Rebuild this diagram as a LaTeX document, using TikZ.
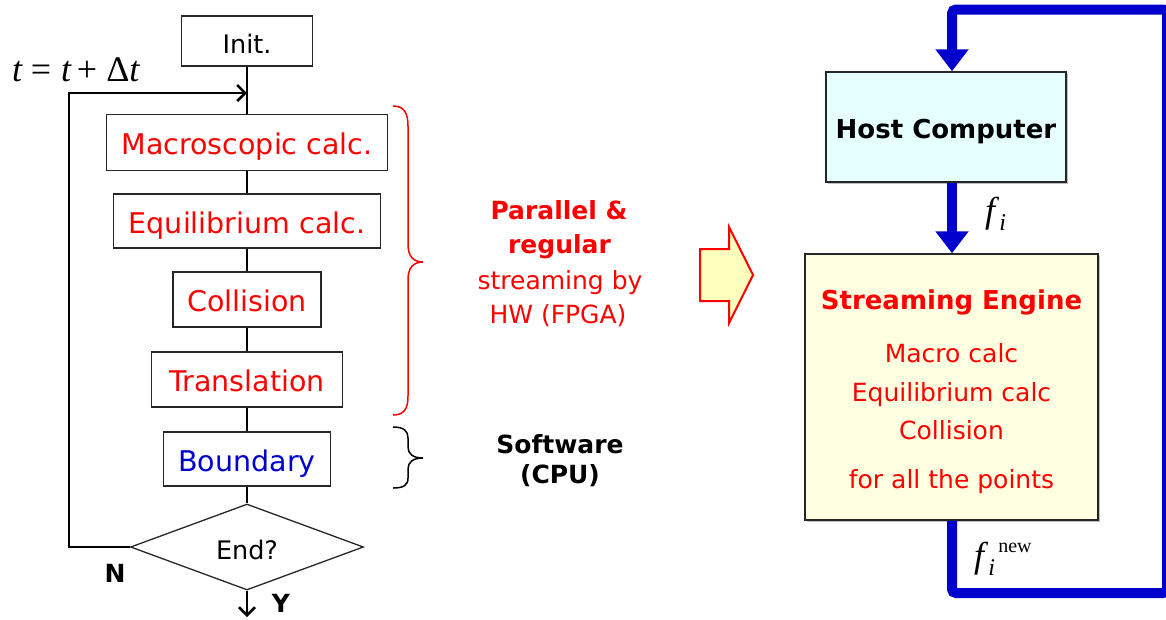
\documentclass[tikz,border=0pt]{standalone}
\usepackage{fontspec}
\setmainfont{DejaVu Sans}
\newfontfamily\tnr{Liberation Serif}
\usetikzlibrary{shapes.geometric,arrows.meta,shadows}
\definecolor{hwred}{RGB}{255,0,0}
\definecolor{swblue}{RGB}{0,0,204}
\definecolor{hostfill}{RGB}{230,255,255}
\definecolor{enginefill}{RGB}{255,255,225}
\definecolor{arrowfill}{RGB}{255,255,190}
\begin{document}
\begin{tikzpicture}[x=1pt,y=-1pt,
  stepbox/.style={draw=black!85, line width=1.3pt, inner sep=0pt,
    text height=24pt, text depth=0pt, text=hwred,
    font=\fontsize{28.5}{34}\selectfont},
  flow/.style={line width=2.5pt, black},
  barb/.style={-{Straight Barb[length=8pt,width=16pt]}},
  pipe/.style={draw=swblue, line width=10pt},
  pipetip/.style={-{Triangle[width=32pt,length=22pt]}},
  midreg/.style={anchor=base, inner sep=0pt, font=\fontsize{25}{30}\selectfont},
  midbold/.style={anchor=base, inner sep=0pt, font=\bfseries\fontsize{25}{30}\selectfont},
  enginetext/.style={anchor=base, inner sep=0pt, text=hwred, font=\fontsize{25}{30}\selectfont},
  boxshade/.style={drop shadow={shadow xshift=1.5pt, shadow yshift=-1.5pt, fill=black!25, opacity=1}},
]
\useasboundingbox (0,0) rectangle (1166,619);

% ---------------- flow chart ----------------
\node[stepbox, text=black, minimum width=131pt, minimum height=50pt,
      font=\fontsize{25.5}{30}\selectfont] (init) at (247,41) {Init.};
\node[stepbox, minimum width=281pt, minimum height=56pt] (macro) at (247,142.5) {Macroscopic calc.};
\node[stepbox, minimum width=267pt, minimum height=54pt] (equil) at (247,221) {Equilibrium calc.};
\node[stepbox, minimum width=148pt, minimum height=55pt] (coll) at (247,299.5) {Collision};
\node[stepbox, minimum width=191pt, minimum height=55pt] (trans) at (247,379.5) {Translation};
\node[stepbox, text=swblue, minimum width=167pt, minimum height=54pt] (bound) at (247,459) {Boundary};
\node[diamond, draw=black!85, line width=1.3pt, minimum width=233pt, minimum height=84pt,
      inner sep=0pt, text height=24pt, text depth=0pt,
      font=\fontsize{25.5}{30}\selectfont] (end) at (247,547) {End?};

\draw[flow] (init) -- (macro);
\draw[flow] (macro) -- (equil);
\draw[flow] (equil) -- (coll);
\draw[flow] (coll) -- (trans);
\draw[flow] (trans) -- (bound);
\draw[flow] (bound) -- (end);

\coordinate (ret) at (69,93);
\coordinate (join) at (247,93);
\draw[flow, barb, line join=miter] (end.west) -| (ret) -- (join);
\coordinate (out) at (247,617);
\draw[flow, barb] (end.south) -- (out);

\node[anchor=base, inner sep=0pt, font=\bfseries\fontsize{25}{30}\selectfont] (nlab) at (115,582) {N};
\node[anchor=base, inner sep=0pt, font=\bfseries\fontsize{25}{30}\selectfont] (ylab) at (281,612) {Y};

\node[anchor=base west, inner sep=0pt, font=\tnr\fontsize{36}{40}\selectfont] (tinc) at (12,81)
  {\textit{t}\hspace{8pt}=\hspace{10pt}\textit{t}\hspace{5pt}+\hspace{9pt}Δ\textit{t}};

% ---------------- braces ----------------
\draw[hwred, line width=1.5pt] (393,106) .. controls (404,106) and (408,113) .. (408,126)
  -- (408,244) .. controls (408,256) and (413,262) .. (423,262)
  .. controls (413,262) and (408,268) .. (408,280)
  -- (408,396) .. controls (408,409) and (404,415) .. (393,415);
\draw[black, line width=1.5pt] (393,427) .. controls (404,427) and (408,431) .. (408,438)
  -- (408,447) .. controls (408,454) and (413,458) .. (423,458)
  .. controls (413,458) and (408,462) .. (408,469)
  -- (408,478) .. controls (408,485) and (404,488) .. (393,488);

\node[midbold, text=hwred] (par1) at (559,219) {Parallel \&};
\node[midbold, text=hwred] (par2) at (559.5,253) {regular};
\node[midreg, text=hwred] (par3) at (560,289) {streaming by};
\node[midreg, text=hwred] (par4) at (558,323) {HW (FPGA)};
\node[midbold] (sw1) at (560,453) {Software};
\node[midbold] (sw2) at (560,483) {(CPU)};

% ---------------- block arrow ----------------
\draw[hwred, line width=2pt, fill=arrowfill, line join=miter]
  (700,249) -- (729,249) -- (729,227) -- (753,275) -- (729,323) -- (729,301) -- (700,301) -- cycle;

% ---------------- hardware side ----------------
\node[draw=black!85, line width=1.5pt, fill=hostfill, boxshade, minimum width=240pt, minimum height=110pt,
      inner sep=0pt, text height=22pt, text depth=0pt,
      font=\bfseries\fontsize{26}{30}\selectfont] (host) at (946,127) {Host Computer};
\node[draw=black!85, line width=1.5pt, fill=enginefill, boxshade, minimum width=293pt, minimum height=266pt,
      inner sep=0pt] (stream) at (951.5,387) {};

\node[enginetext, font=\bfseries\fontsize{26}{30}\selectfont] (se1) at (951.5,309) {Streaming Engine};
\node[enginetext] (se2) at (951.5,362) {Macro calc};
\node[enginetext] (se3) at (951.5,401) {Equilibrium calc};
\node[enginetext] (se4) at (951.5,439) {Collision};
\node[enginetext] (se5) at (951.5,488) {for all the points};

\coordinate (lb) at (952,593);
\coordinate (rb) at (1167,593);
\coordinate (rt) at (1167,9.5);
\coordinate (lt) at (952,9.5);
\draw[pipe, pipetip, rounded corners=4pt] (stream.south -| lb) -- (lb) -- (rb) -- (rt) -- (lt) -- (host.north -| lt);
\draw[pipe, pipetip] (host.south -| lt) -- (stream.north -| lt);

\node[anchor=base west, inner sep=0pt, font=\tnr\fontsize{36}{40}\selectfont] (fin) at (985,222.5)
  {\textit{f}\raisebox{-7.5pt}{\fontsize{24}{24}\selectfont\textit{i}}};
\node[anchor=base west, inner sep=0pt, font=\tnr\fontsize{36}{40}\selectfont] (fout) at (974,567)
  {\textit{f}\rlap{\raisebox{-8pt}{\fontsize{24}{24}\selectfont\textit{i}}}\hspace{10pt}\raisebox{15pt}{\fontsize{20}{20}\selectfont new}};
\end{tikzpicture}
\end{document}
